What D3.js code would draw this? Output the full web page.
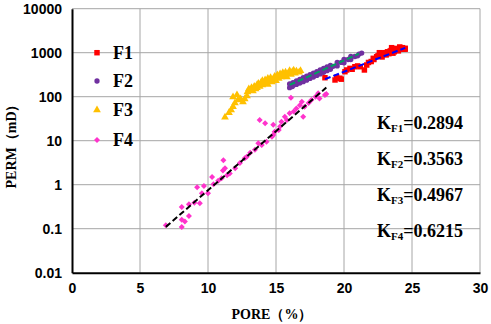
<!DOCTYPE html>
<html>
<head>
<meta charset="utf-8">
<script src="https://cdn.jsdelivr.net/npm/d3@7"></script>
<style>
    body { margin: 0; background: #fff; overflow: hidden; }
    svg { display: block; font-family: 'Liberation Serif', 'Times New Roman', serif; font-weight: bold; }
</style>
</head>
<body>
<svg id="chart" width="491" height="324"></svg>
<script>
// data: [pore %, perm mD]
var f1 = [[18.6,270],[19.34,240],[19.46,275],[19.7,263],[19.8,250],[20.07,370],[20.2,405],[20.44,440],[20.6,420],
    [20.8,480],[21.0,500],[21.2,480],[21.5,405],[21.67,525],[21.8,600],[22.0,630],[22.15,745],[22.2,700],
    [22.4,810],[22.5,850],[22.6,1000],[22.65,890],[22.8,800],[22.9,975],[23.0,1000],[23.1,890],[23.2,1050],
    [23.3,950],[23.4,1100],[23.5,1150],[23.5,1300],[23.6,975],[23.7,1050],[23.8,1250],[23.9,1150],[24.0,1100],
    [24.1,1260],[24.1,1350],[24.2,1200],[24.3,1300],[24.4,1200],[24.5,1260],[24.5,1200]];
var f2 = [[16.0,160],[16.0,195],[16.1,190],[16.2,170],[16.25,210],[16.3,185],[16.4,200],[16.5,190],[16.5,230],
    [16.6,210],[16.75,205],[16.75,248],[16.9,230],[17.0,220],[17.0,270],[17.1,250],[17.25,238],[17.25,292],
    [17.4,270],[17.5,260],[17.5,316],[17.6,290],[17.75,280],[17.75,343],[17.9,320],[18.0,305],[18.0,372],
    [18.1,345],[18.25,330],[18.25,404],[18.4,375],[18.5,358],[18.5,438],[18.6,400],[18.75,390],[18.75,475],
    [18.9,445],[19.0,420],[19.0,515],[19.2,490],[19.5,500],[19.5,600],[19.8,600],[20.0,590],[20.0,700],
    [20.3,700],[20.5,700],[20.5,820],[20.8,820],[21.0,850],[21.1,930],[21.3,980]];
var f3 = [[11.25,34],[11.54,43],[11.7,50],[11.84,59],[11.98,72],[12.2,84],[12.4,89],[12.57,76],[12.7,89],
    [12.87,104],[11.84,98],[12.13,110],
    [12.9,128],[13.0,150],[13.1,140],[13.2,160],[13.3,135],[13.4,170],[13.5,150],[13.6,185],[13.6,160],
    [13.7,200],[13.8,170],[13.9,210],[14.0,185],[14.0,230],[14.1,200],[14.2,240],[14.3,210],[14.4,260],
    [14.4,190],[14.5,230],[14.6,270],[14.7,215],[14.8,250],[14.9,290],[15.0,230],[15.1,310],[15.2,260],
    [15.3,330],[15.4,280],[15.5,350],[15.6,300],[15.7,360],[15.8,280],[15.9,340],[16.0,390],[16.1,320],
    [16.2,370],[16.3,400],[16.4,340],[16.5,380],[16.7,360],[16.8,390]];
var f4 = [[6.9,0.12],[8.07,0.31],[8.07,0.16],[8.3,0.145],[8.07,0.11],[8.6,0.195],[8.6,0.36],[9.0,0.39],
    [9.2,0.87],[9.4,0.38],[9.55,0.64],[9.7,0.93],[10.0,0.64],[10.3,1.5],[10.4,1.03],[10.75,1.23],[11.0,1.4],
    [11.1,2.1],[11.4,1.65],[11.6,1.8],[12.0,2.35],[12.35,3.1],[11.13,3.6],[11.25,2.35],[12.7,4.0],[12.85,4.3],
    [13.1,5.3],[13.45,6.2],[13.7,8.7],[13.95,8.0],[14.3,9.5],[14.7,12.3],[13.8,29.5],[14.2,25],[14.8,23],
    [14.8,13.5],[14.9,16],[15.2,17.5],[15.3,21],[15.4,27],[15.65,35],[15.8,29.5],[16.0,42],[16.1,95],
    [16.3,46],[16.5,54],[16.75,64],[16.9,77],[17.0,35],[17.1,59],[17.4,72],[17.6,84],[17.9,100],[18.1,120],
    [18.2,91],[18.6,110],[18.7,115]];

// fitted trend lines (end points)
var fitF1 = [[18.6,250],[24.5,1290]];
var fitF2 = [[16.0,185],[21.1,950]];
var fitF4 = [[6.9,0.11],[18.7,162]];

var seriesNames = ['F1', 'F2', 'F3', 'F4'];
var kLabels = ['F1', 'F2', 'F3', 'F4'];
var kValues = ['0.2894', '0.3563', '0.4967', '0.6215'];
var xTicks = [0, 5, 10, 15, 20, 25, 30];
var yTicks = [0.01, 0.1, 1, 10, 100, 1000, 10000];

var svg = d3.select('#chart');

var x = d3.scaleLinear().domain([0, 30]).range([72, 480]);
var y = d3.scaleLog().domain([0.01, 10000]).range([272.7, 8.7]);

// grid
svg.append('g').selectAll('line').data(xTicks.slice(1)).enter().append('line')
    .attr('x1', d => x(d)).attr('x2', d => x(d))
    .attr('y1', y(10000)).attr('y2', y(0.01))
    .attr('stroke', '#a6a6a6').attr('stroke-width', 1);
svg.append('g').selectAll('line').data(yTicks.slice(1)).enter().append('line')
    .attr('x1', x(0)).attr('x2', x(30))
    .attr('y1', d => y(d)).attr('y2', d => y(d))
    .attr('stroke', '#a6a6a6').attr('stroke-width', 1);

// axes
var xAxis = svg.append('g')
    .attr('transform', 'translate(0,' + y(0.01) + ')')
    .call(d3.axisBottom(x).tickValues(xTicks).tickSize(0).tickPadding(10));
var yAxis = svg.append('g')
    .attr('transform', 'translate(' + x(0) + ',0)')
    .call(d3.axisLeft(y).tickValues(yTicks).tickSize(0).tickPadding(10)
        .tickFormat(d => d3.format('~g')(d)));
[xAxis, yAxis].forEach(function(a) {
    a.select('.domain').attr('stroke', '#000').attr('stroke-width', 2);
    a.selectAll('text').attr('font-family', null).attr('font-size', 14).attr('fill', '#000');
});

svg.append('text')
    .attr('x', 272).attr('y', 319)
    .attr('text-anchor', 'middle')
    .attr('font-size', 14)
    .text('PORE（%）');
svg.append('text')
    .attr('transform', 'translate(16,143)rotate(-90)')
    .attr('text-anchor', 'middle')
    .attr('font-size', 14)
    .text('PERM（mD）');

// points
var symbols = [
    d3.symbol().type(d3.symbolSquare).size(30),
    d3.symbol().type(d3.symbolCircle).size(22),
    d3.symbol().type(d3.symbolTriangle).size(26),
    d3.symbol().type(d3.symbolSquare).size(18)
];
var rot = ['', '', '', 'rotate(45)'];
var colors = ['#ff0000', '#7030a0', '#ffc000', '#ff33cc'];

[f1, f2, f3, f4].forEach(function(s, i) {
    svg.append('g').selectAll('path').data(s).enter().append('path')
        .attr('transform', d => 'translate(' + x(d[0]) + ',' + y(d[1]) + ')' + rot[i])
        .attr('d', symbols[i])
        .attr('fill', colors[i]);
});

// trend lines
var line = d3.line().x(d => x(d[0])).y(d => y(d[1]));
[[fitF1, '#0000ff'], [fitF2, '#00a060'], [fitF4, '#000']].forEach(function(f) {
    svg.append('path')
        .datum(f[0])
        .attr('d', line)
        .attr('fill', 'none')
        .attr('stroke', f[1])
        .attr('stroke-width', 2)
        .attr('stroke-dasharray', '6,3');
});

// legend
var legendY = [52.7, 81, 110, 140];
seriesNames.forEach(function(n, i) {
    svg.append('path')
        .attr('transform', 'translate(97,' + legendY[i] + ')' + rot[i])
        .attr('d', symbols[i])
        .attr('fill', colors[i]);
    svg.append('text')
        .attr('x', 113).attr('y', legendY[i] + 6)
        .attr('font-size', 18)
        .text(n);
});

// K values
var kY = [129, 165, 201, 237];
kLabels.forEach(function(k, i) {
    var t = svg.append('text')
        .attr('x', 377).attr('y', kY[i])
        .attr('font-size', 18);
    t.append('tspan').text('K');
    t.append('tspan').attr('font-size', 11).attr('dy', 3).text(k);
    t.append('tspan').attr('dy', -3).text('=' + kValues[i]);
});
</script>
</body>
</html>
